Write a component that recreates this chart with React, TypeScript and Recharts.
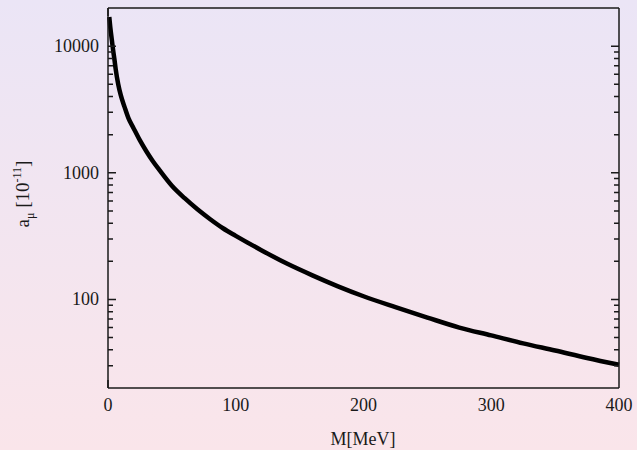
import { LineChart, Line, XAxis, YAxis } from "recharts";

// mass M [MeV] and a_mu [10^-11]
const masses = [1, 2, 3, 4, 5, 6, 8, 10, 13, 16, 20, 25, 30, 35, 40, 50, 60, 70, 80, 90, 100, 120, 140, 160, 180, 200, 225, 250, 275, 300, 325, 350, 375, 400];
const amu = [17000, 13500, 11200, 9300, 7900, 6600, 5000, 4100, 3300, 2700, 2250, 1800, 1480, 1240, 1060, 790, 630, 515, 430, 365, 318, 245, 192, 155, 127, 106, 87, 72, 60, 52, 45, 39.5, 34.5, 30.5];

const xTicks = [0, 50, 100, 150, 200, 250, 300, 350, 400];
const xLabelTicks = [0, 100, 200, 300, 400];
const yTicks = [
  30, 40, 50, 60, 70, 80, 90, 100, 200, 300, 400, 500, 600, 700, 800, 900,
  1000, 2000, 3000, 4000, 5000, 6000, 7000, 8000, 9000, 10000,
];
const yLabelTicks = [100, 1000, 10000];

const data = masses.map((m, i) => ({ m, a: amu[i] }));

const FONT = '"Liberation Serif", "Times New Roman", serif';
const INK = "#1a1a1a";
const W = 637;
const H = 450;
const AXIS_W = 108; // left axis width
const AXIS_H = 62; // bottom axis height
const PLOT_LEFT = AXIS_W;
const PLOT_BOTTOM = H - AXIS_H;

// bottom/left axes draw the labels; the inward tick marks on all four
// sides come from the top/right axes
const BottomLabel = (props: any) => {
  const { x, y, payload } = props;
  if (!xLabelTicks.includes(payload.value)) return <g />;
  return (
    <text x={x} y={y + 23} textAnchor="middle" fontSize={18} fontFamily={FONT} fill={INK} stroke="none">
      {payload.value}
    </text>
  );
};

const LeftLabel = (props: any) => {
  const { x, y, payload } = props;
  if (!yLabelTicks.includes(payload.value)) return <g />;
  return (
    <text x={x - 9} y={y + 6} textAnchor="end" fontSize={18} fontFamily={FONT} fill={INK} stroke="none">
      {payload.value}
    </text>
  );
};

const TopTick = (props: any) => {
  const { x, y, payload } = props;
  const len = xLabelTicks.includes(payload.value) ? 8 : 4;
  return (
    <path
      d={`M${x},${y}V${y + len}M${x},${PLOT_BOTTOM}V${PLOT_BOTTOM - len}`}
      stroke={INK}
      strokeWidth={1.5}
      fill="none"
    />
  );
};

const RightTick = (props: any) => {
  const { x, y, payload } = props;
  const len = yLabelTicks.includes(payload.value) ? 8 : 5;
  return (
    <path
      d={`M${x},${y}H${x - len}M${PLOT_LEFT},${y}H${PLOT_LEFT + len}`}
      stroke={INK}
      strokeWidth={1.5}
      fill="none"
    />
  );
};

export default function App() {
  return (
    <div
      style={{
        position: "absolute",
        left: 0,
        top: 0,
        width: W,
        height: H,
        background: "linear-gradient(to bottom, #ebe5f6, #fae5ea)",
      }}
    >
      <LineChart width={W} height={H} data={data} margin={{ top: 7, right: 17, left: 0, bottom: 0 }}>
        <XAxis
          dataKey="m"
          type="number"
          domain={[0, 400]}
          ticks={xTicks}
          interval={0}
          height={AXIS_H}
          tickSize={0}
          tickMargin={0}
          tickLine={false}
          stroke={INK}
          strokeWidth={1.5}
          tick={BottomLabel}
        />
        <XAxis
          xAxisId="top"
          orientation="top"
          type="number"
          domain={[0, 400]}
          ticks={xTicks}
          interval={0}
          height={1}
          tickSize={0}
          tickMargin={0}
          tickLine={false}
          axisLine={{ stroke: INK, strokeWidth: 1.5 }}
          tick={TopTick}
        />
        <YAxis
          scale="log"
          type="number"
          domain={[20, 20000]}
          allowDataOverflow
          ticks={yTicks}
          interval={0}
          width={AXIS_W}
          tickSize={0}
          tickMargin={0}
          tickLine={false}
          stroke={INK}
          strokeWidth={1.5}
          tick={LeftLabel}
        />
        <YAxis
          yAxisId="right"
          orientation="right"
          scale="log"
          type="number"
          domain={[20, 20000]}
          allowDataOverflow
          ticks={yTicks}
          interval={0}
          width={1}
          tickSize={0}
          tickMargin={0}
          tickLine={false}
          axisLine={{ stroke: INK, strokeWidth: 1.5 }}
          tick={RightTick}
        />
        <Line
          type="monotone"
          dataKey="a"
          stroke="#000"
          strokeWidth={4.5}
          dot={false}
          isAnimationActive={false}
        />
      </LineChart>
      <svg
        width={W}
        height={H}
        style={{ position: "absolute", left: 0, top: 0, pointerEvents: "none" }}
      >
        <text x={363} y={445} textAnchor="middle" fontSize={18} fontFamily={FONT} fill={INK}>
          M[MeV]
        </text>
        <text
          transform="translate(29, 194) rotate(-90)"
          textAnchor="middle"
          fontSize={19}
          fontFamily={FONT}
          fill={INK}
        >
          a
          <tspan fontSize={12} dy={5}>μ</tspan>
          <tspan dy={-5}> [10</tspan>
          <tspan fontSize={12} dy={-8}>-11</tspan>
          <tspan dy={8}>]</tspan>
        </text>
      </svg>
    </div>
  );
}
